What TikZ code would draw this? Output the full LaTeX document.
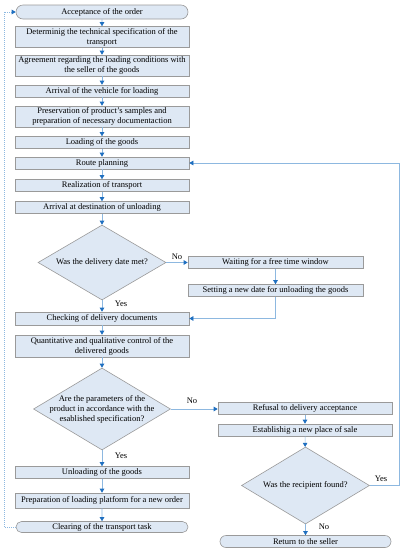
\documentclass[tikz,border=0pt]{standalone}
\usepackage{fontspec}
\setmainfont{Liberation Serif}
\usetikzlibrary{shapes.geometric,shapes.misc,arrows.meta}
\definecolor{boxfill}{HTML}{DEE8F4}
\definecolor{boxdraw}{HTML}{9A9A9A}
\definecolor{linec}{HTML}{8DB8E0}
\definecolor{tipc}{HTML}{1F6FC0}
\begin{document}
\begin{tikzpicture}[x=1pt,y=-1pt,
 font=\fontsize{8.5}{10}\selectfont,
 box/.style={draw=boxdraw, fill=boxfill, line width=0.6pt, minimum width=174pt, minimum height=12pt, inner sep=1pt, align=center},
 term/.style={box, rounded rectangle},
 dia/.style={diamond, draw=boxdraw, fill=boxfill, line width=0.6pt, inner sep=0pt},
 arr/.style={draw=linec, line width=0.6pt, -{Triangle[length=4pt,width=4.5pt,color=tipc]}},
 lab/.style={inner sep=0pt, align=center}
]
\useasboundingbox (0,0) rectangle (405,550);
% main column
\node[term, minimum height=14pt] (accept) at (102,12) {Acceptance of the order};
\node[box, minimum height=21pt] (spec) at (102,37) {Determinig the technical specification of the\\ transport};
\node[box, minimum height=21pt] (agree) at (102,65.5) {Agreement regarding the loading conditions with\\ the seller of the goods};
\node[box] (arrive) at (102,91) {Arrival of the vehicle for loading};
\node[box, minimum height=21pt] (pres) at (102,116.5) {Preservation of product’s samples and\\ preparation of necessary documentaction};
\node[box] (load) at (102,142.5) {Loading of the goods};
\node[box] (route) at (102,163) {Route planning};
\node[box] (real) at (102,185.5) {Realization of transport};
\node[box] (dest) at (102,207.5) {Arrival at destination of unloading};
\node[dia, minimum width=128pt, minimum height=75pt, label={[lab]center:Was the delivery date met?}] (d1) at (102,262.5) {};
\node[box, minimum height=13pt] (check) at (102,318.5) {Checking of delivery documents};
\node[box, minimum height=22pt] (quant) at (102,346) {Quantitative and qualitative control of the\\ delivered goods};
\node[dia, minimum width=137pt, minimum height=82pt, label={[lab]center:{Are the parameters of the\\ product in accordance with the\\ esablished specification?}}] (d2) at (102,409) {};
\node[box] (unload) at (102,472.5) {Unloading of the goods};
\node[box, minimum height=15pt] (prep) at (102,500.5) {Preparation of loading platform for a new order};
\node[term, minimum height=11pt] (clear) at (102,527) {Clearing of the transport task};
% right column
\node[box, minimum width=175pt] (wait) at (275.5,262.5) {Waiting for a free time window};
\node[box, minimum width=175pt] (newdate) at (275.5,290.5) {Setting a new date for unloading the goods};
\node[box] (refuse) at (305,408.5) {Refusal to delivery acceptance};
\node[box] (estab) at (305,430) {Establishig a new place of sale};
\node[dia, minimum width=128pt, minimum height=77pt, label={[lab]center:Was the recipient found?}] (d3) at (305.5,485.5) {};
\node[term, minimum width=173pt] (ret) at (305.5,541.5) {Return to the seller};
% labels
\node[lab] (no1) at (177,257) {No};
\node[lab] (yes1) at (121,304) {Yes};
\node[lab] (no2) at (192,401) {No};
\node[lab] (yes2) at (121,456) {Yes};
\node[lab] (yes3) at (381,479) {Yes};
\node[lab] (no3) at (324,527) {No};
% main arrows
\draw[arr] (accept) -- (spec);
\draw[arr] (spec) -- (agree);
\draw[arr] (agree) -- (arrive);
\draw[arr] (arrive) -- (pres);
\draw[arr] (pres) -- (load);
\draw[arr] (load) -- (route);
\draw[arr] (route) -- (real);
\draw[arr] (real) -- (dest);
\draw[arr] (dest) -- (d1);
\draw[arr] (d1) -- (check);
\draw[arr] (check) -- (quant);
\draw[arr] (quant) -- (d2);
\draw[arr] (d2) -- (unload);
\draw[arr] (unload) -- (prep);
\draw[arr] (prep) -- (clear);
% right arrows
\draw[arr] (d1.east) -- (d1.east -| wait.west);
\draw[arr] (wait) -- (newdate);
\draw[arr] (newdate.south) |- (check.east);
\draw[arr] (d2.east) -- (d2.east -| refuse.west);
\draw[arr] (refuse) -- (estab);
\draw[arr] (estab) -- (d3);
\draw[arr] (d3) -- (ret);
\coordinate (rc) at (399,485.5);
\draw[arr] (d3.east) -- (rc) |- (route.east);
% left feedback
\coordinate (lc) at (4,527);
\draw[arr, dash pattern=on 1pt off 1pt] (clear.west) -- (lc) |- (accept.west);
\end{tikzpicture}
\end{document}
